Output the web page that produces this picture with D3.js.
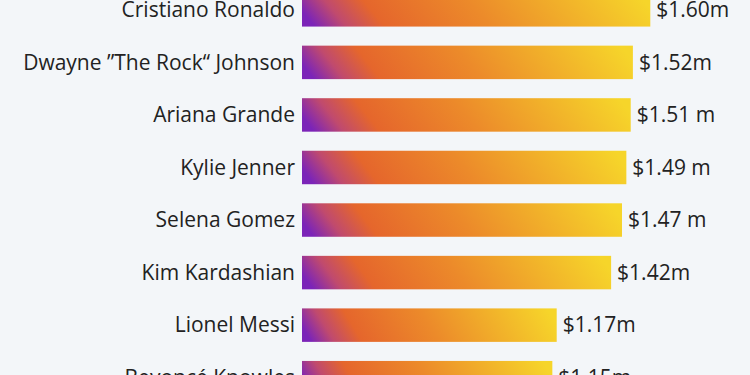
<!DOCTYPE html>
<html>
<head>
<meta charset="utf-8">
<script src="https://cdn.jsdelivr.net/npm/d3@7"></script>
<style>
  html, body { margin: 0; padding: 0; background: #f3f6f9; }
  svg { display: block; }
</style>
</head>
<body>
<svg id="chart" width="750" height="375"></svg>
<script>
// celebrities, earnings per sponsored post (in $ million)
const names = [
  'Cristiano Ronaldo',
  'Dwayne ”The Rock“ Johnson',
  'Ariana Grande',
  'Kylie Jenner',
  'Selena Gomez',
  'Kim Kardashian',
  'Lionel Messi',
  'Beyoncé Knowles'
];
const values = [1.60, 1.52, 1.51, 1.49, 1.47, 1.42, 1.17, 1.15];
const valueLabels = ['$1.60m', '$1.52m', '$1.51 m', '$1.49 m', '$1.47 m', '$1.42m', '$1.17m', '$1.15m'];

const svg = d3.select('#chart');
const width = +svg.attr('width');
const height = +svg.attr('height');

svg.append('rect')
  .attr('width', width)
  .attr('height', height)
  .attr('fill', '#f3f6f9');

const barLeft = 302;
const step = 52.55;
const pad = 0.363;

const x = d3.scaleLinear()
  .domain([0, 1.6])
  .range([barLeft, 650.3]);

const yStart = -6.9 - pad * step / 2;
const y = d3.scaleBand()
  .domain(names)
  .range([yStart, yStart + names.length * step])
  .paddingInner(pad)
  .paddingOuter(pad / 2);

// gradient: purple -> orange -> yellow, stretched over each bar
const defs = svg.append('defs');
const grad = defs.append('linearGradient')
  .attr('id', 'barGrad')
  .attr('x1', 0).attr('y1', 0.54)
  .attr('x2', 1).attr('y2', 0.46);
grad.selectAll('stop')
  .data([
    {o: '0%', c: '#7b24b8'},
    {o: '9%', c: '#c04a6e'},
    {o: '20%', c: '#e5662c'},
    {o: '50%', c: '#ec8a2a'},
    {o: '100%', c: '#f6d52a'}
  ])
  .enter().append('stop')
    .attr('offset', d => d.o)
    .attr('stop-color', d => d.c);

const rows = svg.selectAll('g.row')
  .data(names.map((n, i) => ({name: n, value: values[i], label: valueLabels[i]})))
  .enter().append('g')
    .attr('class', 'row');

rows.append('rect')
  .attr('x', x(0))
  .attr('y', d => y(d.name))
  .attr('width', d => x(d.value) - x(0))
  .attr('height', y.bandwidth())
  .attr('fill', 'url(#barGrad)');

rows.append('text')
  .attr('x', x(0) - 7)
  .attr('y', d => y(d.name) + y.bandwidth() / 2)
  .attr('dy', '0.35em')
  .attr('text-anchor', 'end')
  .style('font-family', '"Open Sans", sans-serif')
  .style('font-size', '21px')
  .style('fill', '#222')
  .text(d => d.name);

rows.append('text')
  .attr('x', d => x(d.value) + 6)
  .attr('y', d => y(d.name) + y.bandwidth() / 2)
  .attr('dy', '0.35em')
  .style('font-family', '"Open Sans", sans-serif')
  .style('font-size', '21px')
  .style('fill', '#222')
  .text(d => d.label);
</script>
</body>
</html>
